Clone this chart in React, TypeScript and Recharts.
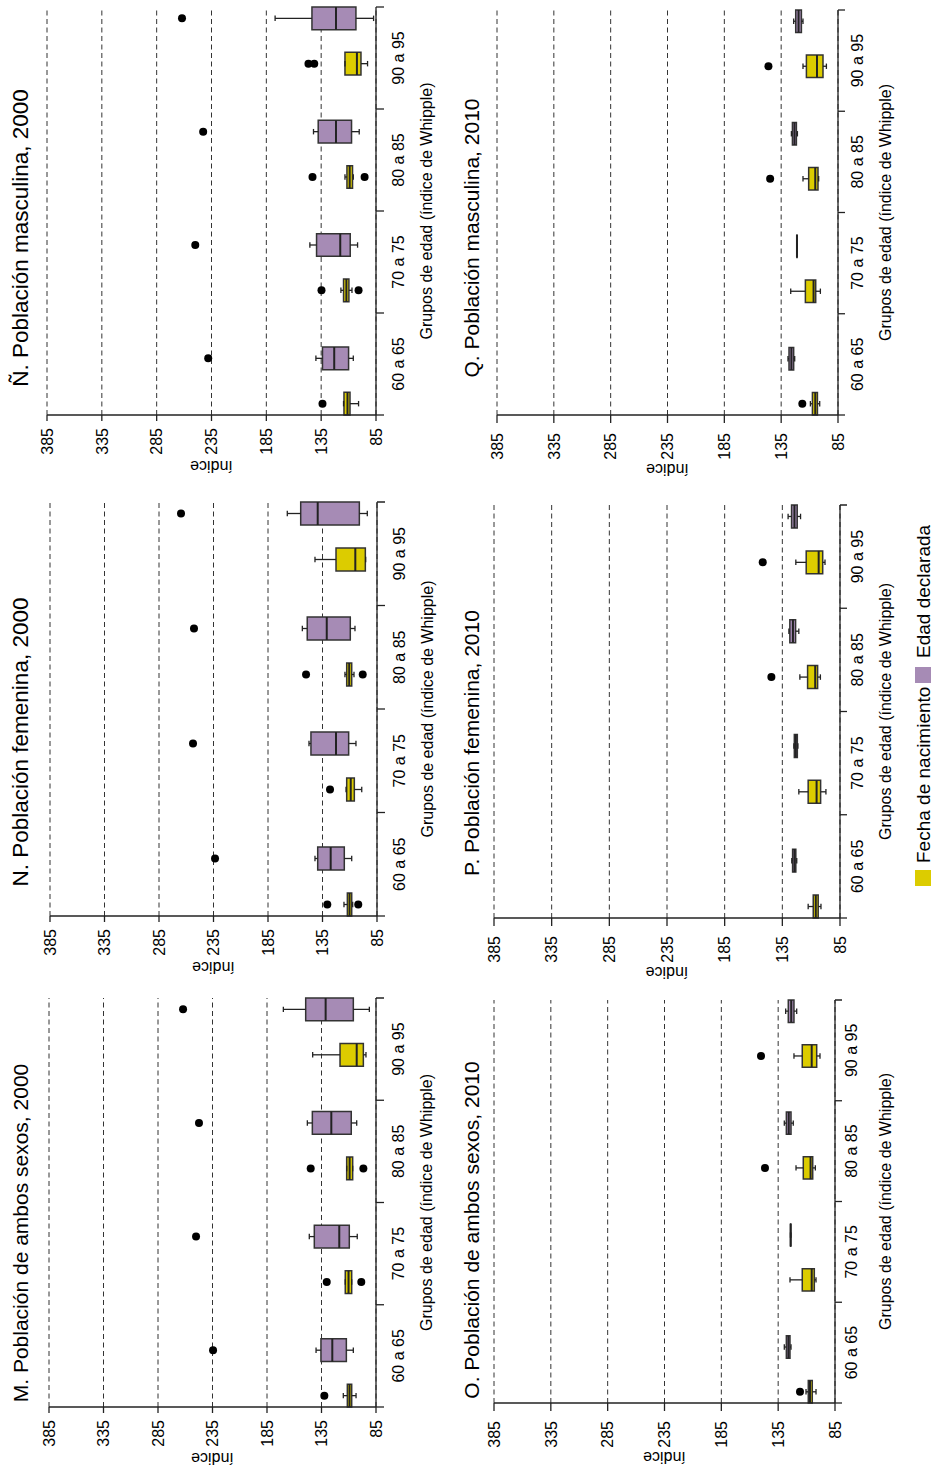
import React from 'react';
import {
  ComposedChart,
  XAxis,
  YAxis,
  CartesianGrid,
  ReferenceArea,
  ReferenceLine,
  Scatter,
} from 'recharts';

// Grupos de edad y escala del índice de Whipple
const grupos = ['60 a 65', '70 a 75', '80 a 85', '90 a 95'];
const ticksIndice = [85, 135, 185, 235, 285, 335, 385];
const limitesGrupo = [0.75, 3, 5.25, 7.5, 9.75];
const centrosGrupo = [1.875, 4.125, 6.375, 8.625];
const posNacimiento = [1, 3.5, 6, 8.5];
const posDeclarada = [2, 4.5, 7, 9.5];

// Cada caja: [mínimo, Q1, mediana, Q3, máximo]
type Caja = [number, number, number, number, number];

// M. Ambos sexos, 2000
const ambos2000Nacimiento: Caja[] = [
  [103.3, 107.3, 109.3, 111.3, 115.0],
  [107.3, 107.3, 110.2, 113.2, 113.2],
  [106.4, 106.4, 109.2, 111.9, 111.9],
  [94.2, 96.6, 102.7, 118.0, 143.1],
];
const ambos2000NacimientoAtipicos = [[132.4], [130.2, 98.5], [144.9, 96.6], []];
const ambos2000Declarada: Caja[] = [
  [105.8, 112.2, 125.1, 135.5, 140.0],
  [102.2, 109.5, 118.7, 141.6, 146.2],
  [102.7, 107.7, 126.0, 143.4, 148.0],
  [91.1, 105.8, 131.2, 149.5, 170.0],
];
const ambos2000DeclaradaAtipicos = [[234.5], [250.1], [247.4], [262.0]];

// N. Población femenina, 2000
const fem2000Nacimiento: Caja[] = [
  [107.3, 108.2, 110.2, 112.2, 115.3],
  [99.0, 105.8, 109.1, 112.8, 113.4],
  [106.1, 108.2, 110.5, 112.8, 114.4],
  [95.4, 95.7, 104.9, 122.6, 141.9],
];
const fem2000NacimientoAtipicos = [[130.6, 102.2], [128.1], [150.1, 98.1], []];
const fem2000Declarada: Caja[] = [
  [108.2, 115.0, 127.5, 139.4, 141.9],
  [104.3, 111.0, 122.6, 145.6, 147.4],
  [105.2, 109.5, 131.1, 149.0, 153.5],
  [93.9, 101.2, 139.4, 155.0, 167.3],
];
const fem2000DeclaradaAtipicos = [[233.6], [253.8], [252.9], [264.8]];

// Ñ. Población masculina, 2000
const masc2000Nacimiento: Caja[] = [
  [100.9, 108.7, 111.0, 114.2, 114.6],
  [106.9, 109.7, 112.0, 114.6, 117.0],
  [105.7, 106.4, 109.0, 111.5, 113.3],
  [92.7, 98.7, 102.4, 113.3, 113.3],
];
const masc2000NacimientoAtipicos = [[133.8], [134.7, 100.9], [142.9, 95.4], [146.6, 141.3]];
const masc2000Declarada: Caja[] = [
  [105.7, 110.0, 123.1, 133.8, 139.8],
  [101.8, 108.5, 117.6, 139.2, 145.3],
  [100.3, 107.3, 121.5, 137.7, 142.0],
  [87.2, 103.3, 121.5, 143.4, 177.0],
];
const masc2000DeclaradaAtipicos = [[238.0], [249.8], [242.6], [261.9]];

// O. Ambos sexos, 2010
const ambos2010Nacimiento: Caja[] = [
  [101.7, 105.0, 107.0, 108.5, 110.5],
  [101.7, 103.2, 105.5, 113.8, 124.6],
  [102.3, 104.6, 106.5, 112.9, 119.3],
  [98.2, 101.1, 105.5, 113.8, 121.1],
];
const ambos2010NacimientoAtipicos = [[115.8], [], [146.6], [150.1]];
const ambos2010Declarada: Caja[] = [
  [123.7, 124.6, 126.0, 127.8, 129.6],
  [123.8, 123.9, 124.0, 124.1, 124.2],
  [121.7, 123.7, 125.7, 127.8, 129.6],
  [118.7, 121.1, 123.5, 126.1, 128.4],
];
const ambos2010DeclaradaAtipicos = [[], [], [], []];

// P. Población femenina, 2010
const fem2010Nacimiento: Caja[] = [
  [101.5, 103.9, 106.0, 108.2, 112.6],
  [97.2, 101.8, 105.3, 112.6, 120.7],
  [102.0, 104.4, 106.5, 113.1, 119.8],
  [98.0, 100.0, 103.5, 114.3, 123.3],
];
const fem2010NacimientoAtipicos = [[], [], [144.5], [152.0]];
const fem2010Declarada: Caja[] = [
  [122.5, 123.3, 124.5, 126.1, 126.8],
  [121.5, 122.0, 123.3, 124.6, 125.0],
  [120.7, 123.5, 125.8, 128.5, 129.3],
  [119.2, 122.1, 124.5, 127.0, 130.0],
];
const fem2010DeclaradaAtipicos = [[], [], [], []];

// Q. Población masculina, 2010
const masc2010Nacimiento: Caja[] = [
  [101.1, 103.1, 105.0, 107.5, 109.3],
  [100.5, 104.6, 106.5, 113.7, 126.6],
  [102.0, 102.6, 105.0, 110.8, 115.8],
  [95.2, 98.2, 103.5, 112.8, 115.8],
];
const masc2010NacimientoAtipicos = [[116.4], [], [144.7], [146.2]];
const masc2010Declarada: Caja[] = [
  [123.1, 124.0, 126.0, 128.1, 129.0],
  [120.9, 121.0, 121.1, 121.2, 121.3],
  [120.7, 121.6, 123.3, 125.1, 126.0],
  [115.8, 117.2, 119.7, 122.2, 124.0],
];
const masc2010DeclaradaAtipicos = [[], [], [], []];

const COLOR_NACIMIENTO = '#DCCC00';
const COLOR_DECLARADA = '#A68BB5';
const TINTA = '#222';
const FUENTE = '"Liberation Sans", Arial, Helvetica, sans-serif';

type Panel = {
  titulo: string;
  nacimiento: Caja[];
  nacimientoAtipicos: number[][];
  declarada: Caja[];
  declaradaAtipicos: number[][];
  left: number;
  right: number;
  top: number;
  bottom: number;
  chartTop: number;
  chartHeight: number;
  yTickSize: number;
  yTickMargin: number;
  yLabelOffset: number;
  xTickLen: number;
  catDy: number;
  axisTitleY: number;
  titleX: number;
  titleY: number;
  titleSize: number;
};

const paneles: Panel[] = [
  {
    titulo: 'M. Población de ambos sexos, 2000',
    nacimiento: ambos2000Nacimiento,
    nacimientoAtipicos: ambos2000NacimientoAtipicos,
    declarada: ambos2000Declarada,
    declaradaAtipicos: ambos2000DeclaradaAtipicos,
    left: 64, right: 473, top: 49, bottom: 376,
    chartTop: 0, chartHeight: 450,
    yTickSize: 6, yTickMargin: 7, yLabelOffset: 12, xTickLen: 8, catDy: 28, axisTitleY: 432,
    titleX: 238, titleY: 28, titleSize: 21,
  },
  {
    titulo: 'N. Población femenina, 2000',
    nacimiento: fem2000Nacimiento,
    nacimientoAtipicos: fem2000NacimientoAtipicos,
    declarada: fem2000Declarada,
    declaradaAtipicos: fem2000DeclaradaAtipicos,
    left: 555, right: 969, top: 50, bottom: 377,
    chartTop: 0, chartHeight: 450,
    yTickSize: 6, yTickMargin: 7, yLabelOffset: 12, xTickLen: 8, catDy: 28, axisTitleY: 433,
    titleX: 729, titleY: 28, titleSize: 22.5,
  },
  {
    titulo: 'Ñ. Población masculina, 2000',
    nacimiento: masc2000Nacimiento,
    nacimientoAtipicos: masc2000NacimientoAtipicos,
    declarada: masc2000Declarada,
    declaradaAtipicos: masc2000DeclaradaAtipicos,
    left: 1056, right: 1464, top: 47, bottom: 376,
    chartTop: 0, chartHeight: 450,
    yTickSize: 6, yTickMargin: 7, yLabelOffset: 12, xTickLen: 8, catDy: 28, axisTitleY: 432,
    titleX: 1233, titleY: 28, titleSize: 22.5,
  },
  {
    titulo: 'O. Población de ambos sexos, 2010',
    nacimiento: ambos2010Nacimiento,
    nacimientoAtipicos: ambos2010NacimientoAtipicos,
    declarada: ambos2010Declarada,
    declaradaAtipicos: ambos2010DeclaradaAtipicos,
    left: 68, right: 471, top: 494, bottom: 835,
    chartTop: 460, chartHeight: 478,
    yTickSize: 8, yTickMargin: 10, yLabelOffset: 9, xTickLen: 7, catDy: 22, axisTitleY: 891,
    titleX: 241, titleY: 479, titleSize: 21,
  },
  {
    titulo: 'P. Población femenina, 2010',
    nacimiento: fem2010Nacimiento,
    nacimientoAtipicos: fem2010NacimientoAtipicos,
    declarada: fem2010Declarada,
    declaradaAtipicos: fem2010DeclaradaAtipicos,
    left: 553, right: 966, top: 494, bottom: 840,
    chartTop: 460, chartHeight: 478,
    yTickSize: 8, yTickMargin: 10, yLabelOffset: 9, xTickLen: 7, catDy: 23, axisTitleY: 891,
    titleX: 728, titleY: 479, titleSize: 21,
  },
  {
    titulo: 'Q. Población masculina, 2010',
    nacimiento: masc2010Nacimiento,
    nacimientoAtipicos: masc2010NacimientoAtipicos,
    declarada: masc2010Declarada,
    declaradaAtipicos: masc2010DeclaradaAtipicos,
    left: 1056, right: 1461, top: 497, bottom: 838,
    chartTop: 460, chartHeight: 478,
    yTickSize: 8, yTickMargin: 10, yLabelOffset: 9, xTickLen: 7, catDy: 25, axisTitleY: 891,
    titleX: 1233, titleY: 479, titleSize: 21,
  },
];

const ticksX = [...limitesGrupo, ...centrosGrupo].sort((a, b) => a - b);
const MEDIO_ANCHO = 0.25;
const MEDIO_TOPE = 0.06;

function cajaElementos(caja: Caja, x: number, color: string, clave: string) {
  const [min, q1, med, q3, max] = caja;
  const out: React.ReactNode[] = [];
  if (q1 > min) {
    out.push(
      <ReferenceLine key={clave + 'wl'} segment={[{ x, y: min }, { x, y: q1 }]} stroke={TINTA} strokeWidth={1.3} />
    );
  }
  if (max > q3) {
    out.push(
      <ReferenceLine key={clave + 'wh'} segment={[{ x, y: q3 }, { x, y: max }]} stroke={TINTA} strokeWidth={1.3} />
    );
  }
  out.push(
    <ReferenceLine key={clave + 'cl'} segment={[{ x: x - MEDIO_TOPE, y: min }, { x: x + MEDIO_TOPE, y: min }]} stroke={TINTA} strokeWidth={1.3} />,
    <ReferenceLine key={clave + 'ch'} segment={[{ x: x - MEDIO_TOPE, y: max }, { x: x + MEDIO_TOPE, y: max }]} stroke={TINTA} strokeWidth={1.3} />,
    <ReferenceArea
      key={clave + 'box'}
      x1={x - MEDIO_ANCHO}
      x2={x + MEDIO_ANCHO}
      y1={q1}
      y2={q3}
      fill={color}
      fillOpacity={1}
      stroke="#333"
      strokeWidth={1.5}
      ifOverflow="visible"
    />,
    <ReferenceLine key={clave + 'med'} segment={[{ x: x - MEDIO_ANCHO, y: med }, { x: x + MEDIO_ANCHO, y: med }]} stroke={TINTA} strokeWidth={2} />
  );
  return out;
}

function PanelCajas({ p }: { p: Panel }) {
  const chartLeft = p.left - 64;
  const chartWidth = p.right - chartLeft + 10;
  const xAxisHeight = p.chartTop + p.chartHeight - p.bottom;
  const marginTop = p.top - p.chartTop;
  const labelOffset = p.chartTop + p.chartHeight - p.axisTitleY;

  const atipicos: { x: number; y: number }[] = [];
  p.nacimientoAtipicos.forEach((vals, i) => vals.forEach((v) => atipicos.push({ x: posNacimiento[i], y: v })));
  p.declaradaAtipicos.forEach((vals, i) => vals.forEach((v) => atipicos.push({ x: posDeclarada[i], y: v })));

  const elementos: React.ReactNode[] = [];
  p.nacimiento.forEach((c, i) => elementos.push(...cajaElementos(c, posNacimiento[i], COLOR_NACIMIENTO, 'n' + i)));
  p.declarada.forEach((c, i) => elementos.push(...cajaElementos(c, posDeclarada[i], COLOR_DECLARADA, 'd' + i)));

  const tickGrupo = (props: any) => {
    const { x, y, payload } = props;
    const v = payload.value as number;
    const idx = centrosGrupo.findIndex((c) => Math.abs(c - v) < 1e-6);
    if (idx < 0) {
      return <line x1={x} x2={x} y1={y} y2={y + p.xTickLen} stroke={TINTA} strokeWidth={1.3} />;
    }
    return (
      <text x={x} y={y + p.catDy} textAnchor="middle" fontSize={16} fill="#000">
        {grupos[idx]}
      </text>
    );
  };

  return (
    <div style={{ position: 'absolute', left: chartLeft, top: p.chartTop }}>
      <ComposedChart
        width={chartWidth}
        height={p.chartHeight}
        margin={{ top: marginTop, right: 10, bottom: 0, left: 0 }}
      >
        <CartesianGrid vertical={false} stroke="#333" strokeDasharray="5 3.5" />
        <XAxis
          type="number"
          dataKey="x"
          domain={[0.75, 9.75]}
          allowDataOverflow
          ticks={ticksX}
          interval={0}
          height={xAxisHeight}
          tickSize={0}
          tickMargin={0}
          tickLine={false}
          axisLine={{ stroke: TINTA, strokeWidth: 1.3 }}
          tick={tickGrupo}
          label={{
            value: 'Grupos de edad (índice de Whipple)',
            position: 'insideBottom',
            offset: labelOffset,
            fill: '#000',
            fontSize: 16,
          }}
        />
        <YAxis
          type="number"
          domain={[85, 385]}
          allowDataOverflow
          ticks={ticksIndice}
          interval={0}
          width={64}
          tickSize={p.yTickSize}
          tickMargin={p.yTickMargin}
          axisLine={{ stroke: TINTA, strokeWidth: 1.3 }}
          tickLine={{ stroke: TINTA, strokeWidth: 1.3 }}
          tick={{ fill: '#000', fontSize: 16 }}
          label={{
            value: 'índice',
            angle: -90,
            position: 'insideLeft',
            offset: p.yLabelOffset,
            fill: '#000',
            fontSize: 16,
            style: { textAnchor: 'middle' },
          }}
        />
        {elementos}
        <Scatter
          data={atipicos}
          dataKey="y"
          isAnimationActive={false}
          shape={(s: any) => <circle cx={s.cx} cy={s.cy} r={4} fill="#000" />}
        />
      </ComposedChart>
    </div>
  );
}

export default function App() {
  return (
    <div
      style={{
        position: 'absolute',
        left: 0,
        top: 0,
        width: 938,
        height: 1471,
        background: '#fff',
        overflow: 'hidden',
        fontFamily: FUENTE,
      }}
    >
      <div
        style={{
          position: 'absolute',
          left: 0,
          top: 0,
          width: 1471,
          height: 938,
          transformOrigin: '0 0',
          transform: 'translate(0px, 1471px) rotate(-90deg)',
        }}
      >
        {paneles.map((p) => (
          <PanelCajas key={p.titulo} p={p} />
        ))}
        <svg
          width={1471}
          height={938}
          style={{ position: 'absolute', left: 0, top: 0, pointerEvents: 'none' }}
        >
          {paneles.map((p) => (
            <text key={p.titulo} x={p.titleX} y={p.titleY} textAnchor="middle" fontSize={p.titleSize} fill="#000">
              {p.titulo}
            </text>
          ))}
          <rect x={585} y={915} width={16} height={16} fill={COLOR_NACIMIENTO} />
          <text x={608} y={930} fontSize={19} fill="#000">
            Fecha de nacimiento
          </text>
          <rect x={788} y={915} width={16} height={16} fill={COLOR_DECLARADA} />
          <text x={813} y={930} fontSize={19} fill="#000">
            Edad declarada
          </text>
        </svg>
      </div>
    </div>
  );
}
